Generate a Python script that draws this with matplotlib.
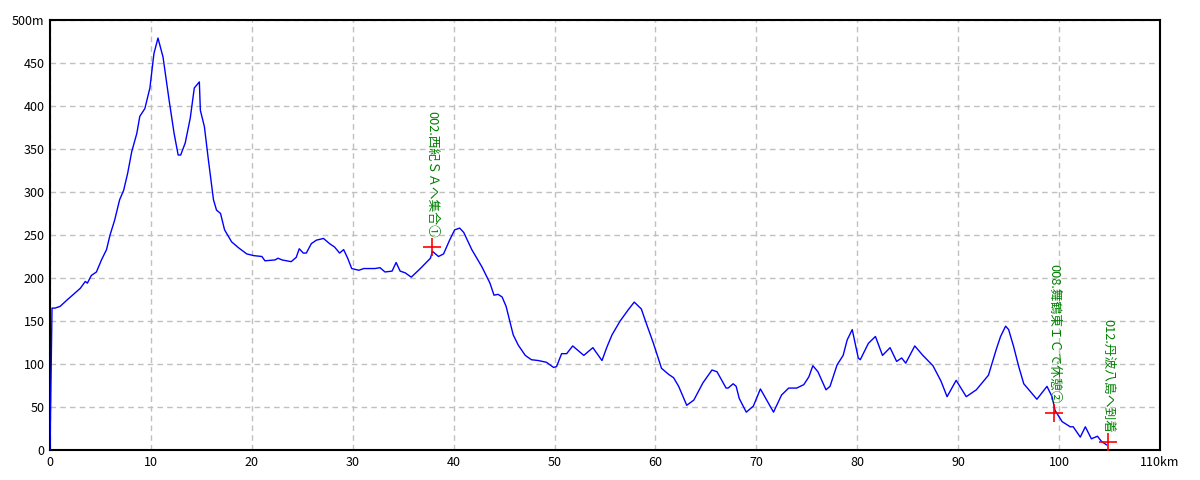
import numpy as np
import matplotlib
matplotlib.use("Agg")
import matplotlib.pyplot as plt

plt.rcParams['font.family'] = ['Noto Sans CJK JP', 'DejaVu Sans']

# elevation profile (km, m)
dist = [0, 0.05, 0.15, 0.2, 0.5, 1.0, 1.65, 3.0, 3.5, 3.7, 4.1, 4.6, 5.1, 5.6, 5.95,
        6.4, 6.9, 7.3, 7.7, 8.1, 8.6, 8.9, 9.4, 9.9, 10.3, 10.7, 11.2, 11.8, 12.3,
        12.7, 12.95, 13.4, 13.9, 14.3, 14.8, 14.9, 15.3, 15.7, 16.2, 16.5, 16.9,
        17.3, 18.0, 18.7, 19.5, 20.2, 21.0, 21.3, 22.3, 22.6, 23.0, 23.9, 24.4,
        24.7, 25.1, 25.4, 25.9, 26.4, 27.1, 27.7, 28.2, 28.7, 29.1, 29.5, 29.9,
        30.6, 31.1, 32.2, 32.7, 33.2, 33.9, 34.3, 34.7, 35.2, 35.8, 36.7, 37.7,
        37.9, 38.5, 39.0, 39.6, 40.1, 40.6, 41.0, 41.8, 42.8, 43.6, 44.0, 44.4,
        44.8, 45.2, 45.9, 46.4, 47.1, 47.7, 48.4, 49.2, 49.9, 50.2, 50.7, 51.2,
        51.8, 52.9, 53.8, 54.7, 55.2, 55.7, 56.5, 57.3, 57.9, 58.6, 59.1, 59.8,
        60.6, 61.3, 61.8, 62.3, 63.1, 63.8, 64.7, 65.6, 66.1, 67.0, 67.2, 67.7,
        68.0, 68.3, 69.0, 69.7, 70.4, 71.7, 72.5, 73.2, 74.0, 74.7, 75.2, 75.6,
        76.1, 76.9, 77.3, 78.0, 78.6, 79.0, 79.5, 80.1, 80.3, 81.1, 81.8, 82.5,
        83.25, 83.9, 84.4, 84.8, 85.7, 86.5, 87.5, 88.3, 88.9, 89.8, 90.8, 91.8,
        93.0, 93.8, 94.2, 94.7, 95.0, 95.5, 96.0, 96.5, 97.8, 98.8, 99.3, 99.6,
        100.3, 101.1, 101.4, 102.1, 102.6, 103.2, 103.8, 104.2, 104.7]
elev = [0, 41, 124, 165, 165, 167, 174, 188, 196, 194, 203, 207, 221, 233, 250,
        267, 291, 302, 322, 347, 368, 388, 397, 421, 461, 479, 457, 407, 368,
        343, 343, 357, 386, 421, 428, 395, 376, 337, 291, 279, 275,
        256, 242, 235, 228, 226, 225, 220, 221, 223, 221, 219, 224,
        234, 229, 229, 240, 244, 246, 240, 236, 229, 233, 223, 211,
        209, 211, 211, 212, 207, 208, 218, 208, 206, 201, 211, 223,
        231, 225, 228, 244, 256, 258, 253, 233, 213, 194, 180, 181,
        178, 167, 134, 122, 110, 105, 104, 102, 96, 97, 112, 112,
        121, 110, 119, 104, 120, 134, 150, 163, 172, 164, 147, 124,
        95, 88, 84, 74, 52, 58, 78, 93, 91, 72, 72, 77,
        74, 60, 44, 51, 71, 44, 64, 72, 72, 76, 85, 98,
        91, 70, 74, 99, 110, 128, 140, 107, 105, 124, 132, 110,
        119, 103, 107, 101, 121, 110, 98, 80, 62, 81, 62, 70,
        87, 118, 132, 144, 140, 120, 97, 77, 59, 74, 62, 46,
        33, 27, 27, 15, 27, 13, 16, 10, 6]

# waypoints
wp_dist = [37.86, 99.5, 104.8]
wp_elev = [236, 43, 9]
wp_labels = ["002.西紀ＳＡへ集合①", "008.舞鶴東ＩＣで休憩②", "012.丹波八島へ到着"]

xticks = list(range(0, 111, 10))
xlabels = [str(v) for v in xticks[:-1]] + ["110km"]
yticks = list(range(0, 501, 50))
ylabels = [str(v) for v in yticks[:-1]] + ["500m"]

fig = plt.figure(figsize=(12, 4.8), dpi=100)
ax = fig.add_axes([50/1200, 30/480, 1110/1200, 430/480])

ax.plot(dist, elev, color='#0000ff', lw=1, zorder=3)
ax.plot(wp_dist, wp_elev, '+', color='#ff0000', ms=13, mew=1.2, zorder=4)
for x, y, lab in zip(wp_dist, wp_elev, wp_labels):
    ax.annotate(lab, (x, y), xytext=(0, 7), textcoords='offset points',
                rotation=-90, ha='center', va='bottom', color='#008000',
                fontsize=9.2, zorder=5)

ax.set_xlim(0, 110)
ax.set_ylim(0, 500)
ax.set_xticks(xticks)
ax.set_xticklabels(xlabels)
ax.set_yticks(yticks)
ax.set_yticklabels(ylabels)
ax.tick_params(length=0, labelsize=9, pad=4)
ax.grid(True, color='#c0c0c0', linestyle=(0, (4, 3)), lw=1)
for s in ax.spines.values():
    s.set_color('black')
    s.set_linewidth(1.5)

fig.savefig('out.png', dpi=100, facecolor='white')
